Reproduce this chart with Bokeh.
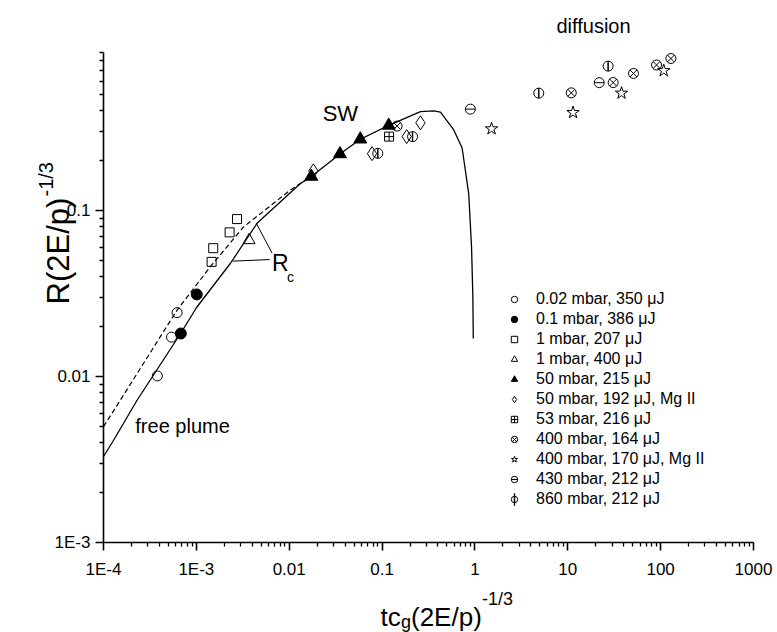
import math
from bokeh.plotting import figure
from bokeh.models import (FixedTicker, CustomJSTickFormatter, Legend, LegendItem, Label,
                          LogAxis, Range1d)
from bokeh.embed import file_html
from bokeh.resources import INLINE

FONT = "Liberation Sans"

# ---------------- data ----------------
p002_x = [3.8e-4, 5.4e-4, 6.2e-4]
p002_y = [0.0101, 0.0173, 0.0243]
p01_x = [6.8e-4, 1.01e-3]
p01_y = [0.0182, 0.0313]
p1a_x = [1.46e-3, 1.52e-3, 2.28e-3, 2.74e-3]
p1a_y = [0.0492, 0.0595, 0.0741, 0.0891]
p1b_x = [3.7e-3]
p1b_y = [0.0665]
p50a_x = [0.0173, 0.0352, 0.0583, 0.118]
p50a_y = [0.161, 0.220, 0.270, 0.327]
p50b_x = [0.0182, 0.078, 0.184, 0.259]
p50b_y = [0.174, 0.221, 0.280, 0.339]
p53_x = [0.119]
p53_y = [0.280]
p400a_x = [0.145, 10.9, 30.8, 51.0, 90.3, 129.0]
p400a_y = [0.324, 0.514, 0.593, 0.673, 0.757, 0.828]
p400b_x = [1.51, 11.4, 37.9, 108.0]
p400b_y = [0.312, 0.391, 0.512, 0.700]
p430_x = [0.893, 21.8]
p430_y = [0.410, 0.592]
p860_x = [0.090, 0.213, 4.87, 27.2]
p860_y = [0.222, 0.280, 0.512, 0.745]

solid_x = [1e-4, 1.28e-4, 2.29e-4, 6.76e-4, 1.01e-3, 2.32e-3, 4.5e-3, 0.0132, 0.0173,
           0.0352, 0.0583, 0.118, 0.259, 0.36, 0.425, 0.592, 0.728, 0.857, 0.92, 0.95, 0.96]
solid_y = [0.0033, 0.00412, 0.00718, 0.0182, 0.0262, 0.0481, 0.084, 0.146, 0.161,
           0.220, 0.270, 0.327, 0.396, 0.400, 0.393, 0.307, 0.239, 0.127, 0.06, 0.03, 0.017]
dash_x = [1e-4, 1.51e-4, 6.18e-4, 1.41e-3, 3.23e-3, 0.0103, 0.0173]
dash_y = [0.0050, 0.00718, 0.0251, 0.0459, 0.080, 0.1334, 0.161]

legend_labels = ["0.02 mbar, 350 \u03bcJ", "0.1 mbar, 386 \u03bcJ", "1 mbar, 207 \u03bcJ",
                 "1 mbar, 400 \u03bcJ", "50 mbar, 215 \u03bcJ", "50 mbar, 192 \u03bcJ, Mg II",
                 "53 mbar, 216 \u03bcJ", "400 mbar, 164 \u03bcJ", "400 mbar, 170 \u03bcJ, Mg II",
                 "430 mbar, 212 \u03bcJ", "860 mbar, 212 \u03bcJ"]

x_major = [1e-4, 1e-3, 1e-2, 1e-1, 1.0, 10.0, 100.0, 1000.0]
y_major = [1e-3, 1e-2, 1e-1]
minor_mult = [2, 3, 4, 5, 6, 7, 8, 9]
x_lim = (1e-4, 1000.0)
y_lim = (1e-3, 0.9)

# ---------------- layout helpers (pixel -> data, frame covers whole canvas) ----------------
W, H = 777, 632
AX_L, AX_R, AX_B, AX_T = 103.0, 753.0, 542.0, 52.0
DX = (AX_R - AX_L) / (math.log10(x_lim[1]) - math.log10(x_lim[0]))
DY = (AX_B - AX_T) / (math.log10(y_lim[1]) - math.log10(y_lim[0]))


def xd(px):
    return 10 ** (math.log10(x_lim[0]) + (px - AX_L) / DX)


def yd(py):
    return 10 ** (math.log10(y_lim[0]) + (AX_B - py) / DY)


p = figure(width=W, height=H, x_axis_type="log", y_axis_type="log",
           x_range=Range1d(xd(0), xd(W)), y_range=Range1d(yd(H), yd(0)),
           x_axis_location=None, y_axis_location=None,
           output_backend="svg", toolbar_location=None,
           min_border_left=0, min_border_right=0, min_border_top=0, min_border_bottom=0)
p.outline_line_color = None
p.grid.visible = False
p.background_fill_color = "white"
p.border_fill_color = "white"

fmt = CustomJSTickFormatter(code="""
if (tick < 0.005) { return tick.toExponential(0).toUpperCase(); }
return String(Number(tick.toPrecision(3)));
""")

x_minor = [m * d for d in x_major[:-1] for m in minor_mult]
y_minor = [m * d for d in y_major for m in minor_mult]
xax = LogAxis(fixed_location=y_lim[0], bounds=x_lim,
              ticker=FixedTicker(ticks=x_major, minor_ticks=x_minor))
yax = LogAxis(fixed_location=x_lim[0], bounds=y_lim,
              ticker=FixedTicker(ticks=y_major, minor_ticks=y_minor))
for ax in (xax, yax):
    ax.formatter = fmt
    ax.axis_line_width = 1.6
    ax.axis_line_color = "black"
    ax.major_tick_line_width = 1.6
    ax.minor_tick_line_width = 1.3
    ax.major_tick_line_color = "black"
    ax.minor_tick_line_color = "black"
    ax.major_tick_in = 0
    ax.major_tick_out = 8
    ax.minor_tick_in = 0
    ax.minor_tick_out = 4
    ax.major_label_text_font = FONT
    ax.major_label_text_font_size = "17px"
    ax.major_label_text_color = "black"
xax.major_label_standoff = 9
yax.major_label_standoff = 5
p.add_layout(xax, "below")
p.add_layout(yax, "left")

# ---------------- curves ----------------
p.line(solid_x, solid_y, line_color="black", line_width=1.3)
p.line(dash_x, dash_y, line_color="black", line_width=1.2, line_dash="5 3")

# ---------------- points ----------------
S = 10
kw = dict(line_color="black", line_width=1.0)
r1 = p.scatter(p002_x, p002_y, marker="circle", size=S, fill_color=None, **kw)
r2 = p.scatter(p01_x, p01_y, marker="circle", size=S + 1, fill_color="black", **kw)
r3 = p.scatter(p1a_x, p1a_y, marker="square", size=S - 1, fill_color=None, **kw)
r4 = p.scatter(p1b_x, p1b_y, marker="triangle", size=S + 2, fill_color=None, **kw)
r5 = p.scatter(p50a_x, p50a_y, marker="triangle", size=S + 3, fill_color="black", **kw)
r6 = p.scatter(p50b_x, p50b_y, marker="diamond", size=S + 4, fill_color=None, **kw)
r7 = p.scatter(p53_x, p53_y, marker="square_cross", size=S - 1, fill_color=None, **kw)
r8 = p.scatter(p400a_x, p400a_y, marker="circle_x", size=S, fill_color=None, **kw)
r9 = p.scatter(p400b_x, p400b_y, marker="star", size=S + 3, fill_color=None, **kw)
r10a = p.scatter(p430_x, p430_y, marker="circle", size=S, fill_color=None, **kw)
r10b = p.scatter(p430_x, p430_y, marker="dash", size=S, **kw)
r11a = p.scatter(p860_x, p860_y, marker="circle", size=S, fill_color=None, **kw)
# vertical bar inside the circle (a very thin ellipse, so the legend shows it upright too)
r11b = p.ellipse(p860_x, p860_y, width=0.4, height=S, width_units="screen",
                 height_units="screen", fill_color=None, **kw)

groups = [[r1], [r2], [r3], [r4], [r5], [r6], [r7], [r8], [r9], [r10a, r10b], [r11a, r11b]]
legend = Legend(items=[LegendItem(label=l, renderers=g) for l, g in zip(legend_labels, groups)],
                location=(506, 123), margin=0, padding=0, spacing=0,
                glyph_width=16, glyph_height=20, label_height=20, label_standoff=14,
                border_line_color=None, background_fill_alpha=0,
                label_text_font=FONT, label_text_font_size="16px", label_text_color="black")
p.add_layout(legend)

# ---------------- annotation lines for R_c ----------------
rc_a_x = [4.42e-3, 6.53e-3]
rc_a_y = [0.0840, 0.0557]
rc_b_x = [2.48e-3, 6.15e-3]
rc_b_y = [0.0497, 0.0508]
p.line(rc_a_x, rc_a_y, line_color="black", line_width=1.0)
p.line(rc_b_x, rc_b_y, line_color="black", line_width=1.0)


def lab(x, y, text, size, align="left", baseline="alphabetic", angle=0.0):
    p.add_layout(Label(x=x, y=y, text=text, text_font=FONT, text_font_size=size,
                       text_align=align, text_baseline=baseline, text_color="black",
                       angle=angle))


# texts in the plot
lab(8.0e-3, 0.0481, "R", "23px", align="center", baseline="middle")
lab(1.03e-2, 0.0399, "c", "14px", align="center", baseline="middle")
lab(2.2e-4, 0.00507, "free plume", "20px", baseline="middle")
lab(0.0356, 0.384, "SW", "22px", align="center", baseline="middle")
lab(xd(593), yd(25), "diffusion", "20px", align="center", baseline="middle")

# x axis title: tc_g(2E/p)^-1/3
lab(xd(380), yd(616), "tc", "26px")
lab(xd(400.5), yd(621), "g", "18px")
lab(xd(410.5), yd(616), "(2E/p)", "26px")
lab(xd(481.5), yd(598), "-1/3", "18px")

# y axis title, rotated (reads bottom to top)
lab(xd(58), yd(304), "R(2E/p)", "31px", angle=math.pi / 2)
lab(xd(45), yd(196), "-1/3", "20px", angle=math.pi / 2)

open("out.html", "w").write(file_html(p, INLINE))
